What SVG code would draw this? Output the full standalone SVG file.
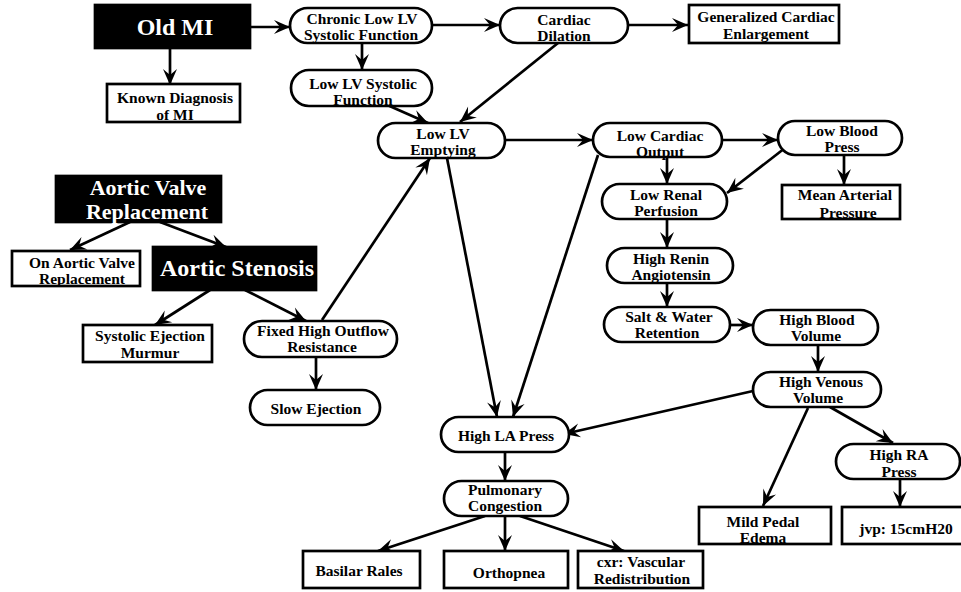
<svg xmlns="http://www.w3.org/2000/svg" width="961" height="592" viewBox="0 0 961 592">
<defs>
<marker id="ah" markerUnits="userSpaceOnUse" viewBox="-18 -9 20 18" refX="0" refY="0" markerWidth="20" markerHeight="18" orient="auto">
<path d="M0,0 L-16,-7 L-10,0 L-16,7 Z" fill="#000"/>
</marker>
</defs>
<style>
rect{stroke:#000;stroke-width:2.7;fill:#fff}
.blk rect{fill:#000}
text{font-family:"Liberation Serif","Times New Roman",serif;font-weight:bold;font-size:15.5px;text-anchor:middle;fill:#000}
.blk text{fill:#fff;font-size:22px}
#edges line{stroke:#000;stroke-width:2.7;marker-end:url(#ah)}
</style>
<rect x="0" y="0" width="961" height="592" style="fill:#fff;stroke:none"/>

<!-- connectors -->
<g id="edges">
<line x1="250" y1="27" x2="290" y2="27"/>
<line x1="170" y1="48" x2="170" y2="85"/>
<line x1="432" y1="25" x2="500" y2="25"/>
<line x1="628" y1="25" x2="688" y2="25"/>
<line x1="362" y1="43" x2="362" y2="70"/>
<line x1="385" y1="104" x2="428" y2="123"/>
<line x1="558" y1="43" x2="460" y2="122"/>
<line x1="505" y1="140" x2="593" y2="140"/>
<line x1="722" y1="140" x2="778" y2="140"/>
<line x1="667" y1="157" x2="667" y2="184"/>
<line x1="785" y1="148" x2="727" y2="193"/>
<line x1="844" y1="155" x2="844" y2="185"/>
<line x1="667" y1="219" x2="667" y2="248"/>
<line x1="667" y1="283" x2="667" y2="307"/>
<line x1="730" y1="325" x2="753" y2="325"/>
<line x1="818" y1="345" x2="818" y2="372"/>
<line x1="753" y1="391" x2="564" y2="434"/>
<line x1="808" y1="408" x2="763" y2="506"/>
<line x1="830" y1="407" x2="893" y2="443"/>
<line x1="900" y1="478" x2="900" y2="507"/>
<line x1="505" y1="451" x2="505" y2="481"/>
<line x1="485" y1="516" x2="378" y2="551"/>
<line x1="505" y1="516" x2="505" y2="551"/>
<line x1="520" y1="516" x2="624" y2="551"/>
<line x1="447" y1="158" x2="497" y2="417"/>
<line x1="598" y1="155" x2="513" y2="417"/>
<line x1="130" y1="222" x2="70" y2="250"/>
<line x1="160" y1="222" x2="226" y2="247"/>
<line x1="210" y1="290" x2="155" y2="325"/>
<line x1="245" y1="290" x2="306" y2="321"/>
<line x1="322" y1="320" x2="430" y2="158"/>
<line x1="316" y1="357" x2="316" y2="390"/>
</g>

<!-- nodes: black boxes are starting findings, pills are states, plain boxes are observations -->
<g id="old-mi" class="blk"><rect x="95" y="5" width="155" height="43"/><text x="175" y="35" style="font-size:24px">Old MI</text></g>
<g id="known-mi"><rect x="107" y="84" width="133" height="38"/><text x="175" y="103">Known Diagnosis</text><text x="175" y="120">of MI</text></g>
<g id="chronic-low-lv"><rect x="290" y="8" width="142" height="35" rx="17.5"/><text x="362" y="24">Chronic Low LV</text><text x="361" y="40">Systolic Function</text></g>
<g id="cardiac-dilation"><rect x="500" y="8" width="128" height="35" rx="17.5"/><text x="564" y="25">Cardiac</text><text x="564" y="41">Dilation</text></g>
<g id="generalized"><rect x="689" y="5" width="150" height="38"/><text x="766" y="22">Generalized Cardiac</text><text x="766" y="39">Enlargement</text></g>
<g id="low-lv-systolic"><rect x="291" y="70" width="141" height="36" rx="18"/><text x="363" y="89">Low LV Systolic</text><text x="363" y="105">Function</text></g>
<g id="low-lv-emptying"><rect x="378" y="123" width="127" height="35" rx="17.5"/><text x="443" y="139">Low LV</text><text x="443" y="155">Emptying</text></g>
<g id="low-cardiac-output"><rect x="593" y="123" width="129" height="34" rx="17"/><text x="660" y="141">Low Cardiac</text><text x="660" y="157">Output</text></g>
<g id="low-blood-press"><rect x="778" y="121" width="124" height="34" rx="17"/><text x="842" y="136">Low Blood</text><text x="842" y="152">Press</text></g>
<g id="low-renal"><rect x="602" y="184" width="125" height="35" rx="17.5"/><text x="666" y="200">Low Renal</text><text x="666" y="216">Perfusion</text></g>
<g id="mean-arterial"><rect x="782" y="185" width="118" height="34"/><text x="845" y="200">Mean Arterial</text><text x="848" y="218">Pressure</text></g>
<g id="high-renin"><rect x="607" y="248" width="126" height="35" rx="17.5"/><text x="671" y="264">High Renin</text><text x="671" y="280">Angiotensin</text></g>
<g id="salt-water"><rect x="604" y="307" width="126" height="35" rx="17.5"/><text x="669" y="322">Salt &amp; Water</text><text x="667" y="338">Retention</text></g>
<g id="high-blood-volume"><rect x="753" y="310" width="125" height="35" rx="17.5"/><text x="817" y="325">High Blood</text><text x="816" y="341">Volume</text></g>
<g id="high-venous"><rect x="753" y="372" width="128" height="35" rx="17.5"/><text x="821" y="387">High Venous</text><text x="818" y="403">Volume</text></g>
<g id="high-la"><rect x="441" y="417" width="128" height="35" rx="17.5"/><text x="506" y="441">High LA Press</text></g>
<g id="high-ra"><rect x="836" y="444" width="124" height="35" rx="17.5"/><text x="899" y="460">High RA</text><text x="899" y="477">Press</text></g>
<g id="pulmonary"><rect x="444" y="481" width="124" height="35" rx="17.5"/><text x="505" y="495">Pulmonary</text><text x="505" y="511">Congestion</text></g>
<g id="mild-pedal"><rect x="699" y="507" width="132" height="37"/><text x="763" y="527">Mild Pedal</text><text x="763" y="543">Edema</text></g>
<g id="jvp"><rect x="842" y="507" width="125" height="37"/><text x="906" y="534">jvp: 15cmH20</text></g>
<g id="basilar-rales"><rect x="303" y="551" width="117" height="37"/><text x="359" y="576">Basilar Rales</text></g>
<g id="orthopnea"><rect x="444" y="551" width="124" height="37"/><text x="509" y="578">Orthopnea</text></g>
<g id="cxr"><rect x="578" y="551" width="125" height="37"/><text x="641" y="567">cxr: Vascular</text><text x="642" y="584">Redistribution</text></g>
<g id="avr" class="blk"><rect x="56" y="176" width="165" height="46"/><text x="148" y="195">Aortic Valve</text><text x="147" y="219">Replacement</text></g>
<g id="on-avr"><rect x="12" y="251" width="128" height="35"/><text x="82" y="268">On Aortic Valve</text><text x="82" y="284">Replacement</text></g>
<g id="aortic-stenosis" class="blk"><rect x="153" y="247" width="163" height="43"/><text x="237" y="276" style="font-size:24px">Aortic Stenosis</text></g>
<g id="systolic-murmur"><rect x="83" y="325" width="129" height="37"/><text x="150" y="341">Systolic Ejection</text><text x="150" y="358">Murmur</text></g>
<g id="fixed-high"><rect x="244" y="321" width="153" height="36" rx="18"/><text x="323" y="336">Fixed High Outflow</text><text x="322" y="352">Resistance</text></g>
<g id="slow-ejection"><rect x="250" y="390" width="130" height="35" rx="17.5"/><text x="316" y="414">Slow Ejection</text></g>
</svg>
